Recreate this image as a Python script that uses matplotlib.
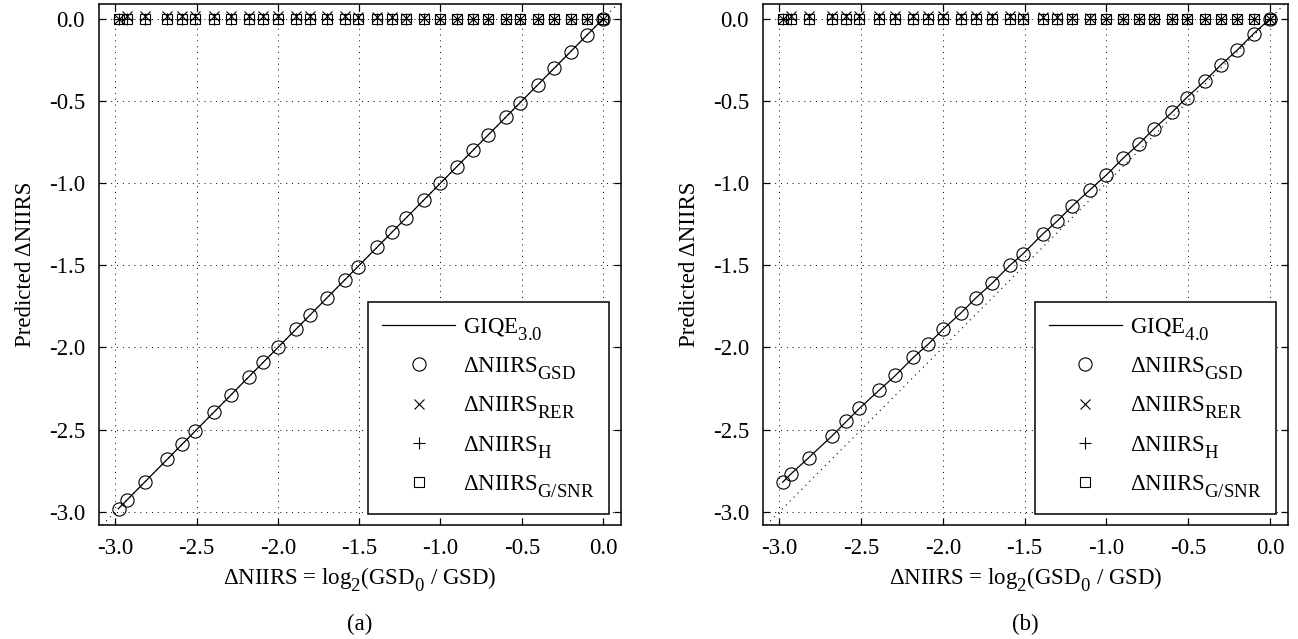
import matplotlib
matplotlib.use('Agg')
import matplotlib.pyplot as plt

try:
    import matplotlib._mathtext as _mt
    _mt.SHRINK_FACTOR = 0.82
    _mt.FontConstantsBase.sub1 = 0.7
except Exception:
    pass

plt.rcParams['font.family'] = ['Liberation Serif', 'DejaVu Serif']
plt.rcParams['mathtext.fontset'] = 'custom'
plt.rcParams['mathtext.rm'] = 'Liberation Serif'
plt.rcParams['mathtext.it'] = 'Liberation Serif:italic'
plt.rcParams['mathtext.bf'] = 'Liberation Serif:bold'
plt.rcParams['axes.unicode_minus'] = False

# x: ΔNIIRS = log2(GSD0/GSD)
delta_niirs = [-2.98, -2.93, -2.82, -2.68, -2.59, -2.51, -2.39, -2.29, -2.18, -2.09,
               -2.00, -1.89, -1.80, -1.70, -1.59, -1.51, -1.39, -1.30, -1.21, -1.10,
               -1.00, -0.90, -0.80, -0.71, -0.60, -0.51, -0.40, -0.30, -0.20, -0.10, 0.00]
# Panel (a) GIQE 3.0 predictions
pred_a = [-2.98, -2.93, -2.82, -2.68, -2.59, -2.51, -2.39, -2.29, -2.18, -2.09,
          -2.00, -1.89, -1.80, -1.70, -1.59, -1.51, -1.39, -1.30, -1.21, -1.10,
          -1.00, -0.90, -0.80, -0.71, -0.60, -0.51, -0.40, -0.30, -0.20, -0.10, 0.00]
# Panel (b) GIQE 4.0 predictions
pred_b = [-2.82, -2.77, -2.67, -2.54, -2.45, -2.37, -2.26, -2.17, -2.06, -1.98,
          -1.89, -1.79, -1.70, -1.61, -1.50, -1.43, -1.31, -1.23, -1.14, -1.04,
          -0.95, -0.85, -0.76, -0.67, -0.57, -0.48, -0.38, -0.28, -0.19, -0.09, 0.00]
# other terms
rer_term = [0.00, 0.02, 0.02, 0.02, 0.02, 0.02, 0.02, 0.02, 0.02, 0.02,
            0.02, 0.02, 0.02, 0.02, 0.015, 0.01, 0.01, 0.01, 0.005, 0.005,
            0.0, 0.0, 0.0, 0.0, 0.0, 0.0, 0.0, 0.0, 0.0, 0.0, 0.0]
h_term = [0.0] * 31
gsnr_term = [0.0] * 31

ticks = [-3.0, -2.5, -2.0, -1.5, -1.0, -0.5, 0.0]
tick_labels = ['-3.0', '-2.5', '-2.0', '-1.5', '-1.0', '-0.5', '0.0']

FS = 16.5

panels = [
    dict(pred=pred_a, gsd=pred_a, name=r'GIQE$_{\mathrm{3.0}}$', tag='(a)',
         rect=[99/1298, (639-525)/639, 522/1298, 521/639]),
    dict(pred=pred_b, gsd=pred_b, name=r'GIQE$_{\mathrm{4.0}}$', tag='(b)',
         rect=[763/1298, (639-525)/639, 525/1298, 521/639]),
]

fig = plt.figure(figsize=(12.98, 6.39), dpi=100)

for p in panels:
    ax = fig.add_axes(p['rect'])
    ax.axline((0, 0), slope=1, color='black', linestyle=(0, (1, 4)), linewidth=0.8, zorder=1)
    ax.plot(delta_niirs, p['pred'], color='black', linewidth=0.9, label=p['name'], zorder=2)
    ax.plot(delta_niirs, p['gsd'], linestyle='none', marker='o', markersize=9.5,
            markerfacecolor='none', markeredgecolor='black', markeredgewidth=0.8,
            label='ΔNIIRS$_{\\mathrm{GSD}}$', zorder=3)
    ax.plot(delta_niirs, rer_term, linestyle='none', marker='x', markersize=7,
            color='black', markeredgewidth=0.8, label='ΔNIIRS$_{\\mathrm{RER}}$', zorder=3)
    ax.plot(delta_niirs, h_term, linestyle='none', marker='+', markersize=9,
            color='black', markeredgewidth=0.8, label='ΔNIIRS$_{\\mathrm{H}}$', zorder=3)
    ax.plot(delta_niirs, gsnr_term, linestyle='none', marker='s', markersize=6.5,
            markerfacecolor='none', markeredgecolor='black', markeredgewidth=0.8,
            label='ΔNIIRS$_{\\mathrm{G/SNR}}$', zorder=3)

    ax.set_xlim(-3.1, 0.11)
    ax.set_ylim(-3.08, 0.09)
    ax.set_xticks(ticks)
    ax.set_xticklabels(tick_labels)
    ax.set_yticks(ticks)
    ax.set_yticklabels(tick_labels)
    ax.tick_params(direction='in', length=5, width=0.9, top=True, right=True,
                   labelsize=FS, colors='black')
    ax.tick_params(axis='x', pad=9)
    ax.tick_params(axis='y', pad=10)
    ax.grid(True, color='black', linestyle=(0, (1, 5)), linewidth=0.7)
    for s in ax.spines.values():
        s.set_linewidth(1.1)
    ax.set_xlabel('ΔNIIRS = log$_{2}$(GSD$_{0}$ / GSD)', fontsize=FS, labelpad=5)
    ax.set_ylabel('Predicted ΔNIIRS', fontsize=FS, labelpad=9)
    leg = ax.legend(loc='lower right', bbox_to_anchor=(0.977, 0.021), borderaxespad=0,
                    fontsize=FS, frameon=True, fancybox=False, edgecolor='black',
                    framealpha=1, handlelength=3.2, handletextpad=0.35,
                    labelspacing=0.55, borderpad=0.62)
    leg.get_frame().set_linewidth(1.1)
    bb = ax.get_position()
    fig.text(bb.x0 + bb.width / 2, 1 - 624/639, p['tag'], ha='center', va='center', fontsize=FS)

fig.savefig('out.png', dpi=100)
